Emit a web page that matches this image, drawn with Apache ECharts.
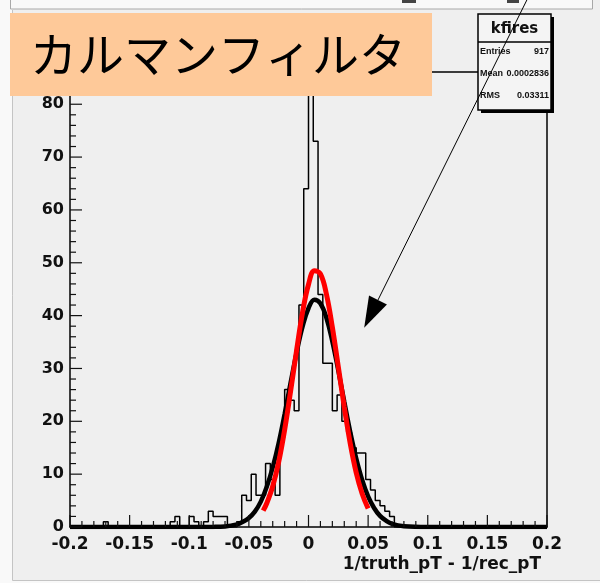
<!DOCTYPE html>
<html>
<head>
<meta charset="utf-8">
<script src="https://cdn.jsdelivr.net/npm/echarts@6/dist/echarts.min.js"></script>
<style>
html, body { margin: 0; padding: 0; background: #f9f9f9; }
#main { width: 600px; height: 583px; }
</style>
</head>
<body>
<div id="main"></div>
<script>
// histogram kfires : 100 bins of 0.004 between -0.2 and 0.2
const binStart = -0.2;
const binWidth = 0.004;
const counts = [
  0, 0, 0, 0, 0, 0, 0, 1, 0, 0,
  0, 0, 0, 0, 0, 0, 0, 0, 0, 0,
  0, 1, 2, 0, 0, 2, 1, 0, 1, 3,
  2, 2, 2, 0, 0, 1, 6, 5, 10, 6,
  6, 12, 9, 6, 17, 26, 24, 22, 42, 64,
  82, 73, 44, 31, 31, 22, 25, 20, 18, 15,
  14, 14, 9, 7, 5, 4, 3, 2, 0, 0,
  0, 0, 0, 0, 0, 0, 0, 0, 0, 0,
  0, 0, 0, 0, 0, 0, 0, 0, 0, 0,
  0, 0, 0, 0, 0, 0, 0, 0, 0, 0
];

// black fit curve
const blackX = [-0.2, -0.1, -0.08, -0.07, -0.06, -0.055, -0.05, -0.045, -0.04, -0.035,
  -0.03, -0.025, -0.02, -0.015, -0.01, -0.005, 0, 0.005, 0.01, 0.015,
  0.02, 0.025, 0.03, 0.035, 0.04, 0.045, 0.05, 0.055, 0.06, 0.065,
  0.07, 0.08, 0.1, 0.2];
const blackY = [0, 0, 0.02, 0.1, 0.5, 1.0, 1.7, 2.9, 4.8, 7.6,
  11.3, 15.9, 21.4, 27.3, 33.0, 37.9, 41.4, 43.0, 42.3, 39.6,
  35.1, 29.6, 23.7, 18.0, 13.0, 8.9, 5.8, 3.6, 2.1, 1.2,
  0.6, 0.15, 0, 0];

// red curve (kalman filter)
const redX = [-0.038, -0.035, -0.03, -0.025, -0.02, -0.015, -0.01, -0.005, 0, 0.005,
  0.01, 0.015, 0.02, 0.025, 0.03, 0.035, 0.04, 0.045, 0.05];
const redY = [3.1, 4.5, 7.7, 12.3, 18.4, 25.7, 33.4, 40.6, 45.9, 48.5,
  47.9, 44.1, 37.8, 30.3, 22.7, 15.8, 10.3, 6.3, 3.5];

// tick positions
const xMajorTicks = [-0.2, -0.15, -0.1, -0.05, 0, 0.05, 0.1, 0.15, 0.2];
const xMinorStep = 0.01;
const yMajorTicks = [0, 10, 20, 30, 40, 50, 60, 70, 80];
const yMinorStep = 2;

const statNames = ['Entries', 'Mean', 'RMS'];
const statValues = ['917', '0.0002836', '0.03311'];

// arrow annotation in data coordinates (tail is above the frame)
const arrowTail = [0.1835, 99.9];
const arrowTip = [0.0467, 37.7];

const histData = counts.map((c, i) => [binStart + i * binWidth, c]);
histData.push([binStart + counts.length * binWidth, counts[counts.length - 1]]);

// tick marks as data: [value, side (0 = bottom, 1 = left), length]
const tickData = [];
for (let i = 0; i <= 40; i++) {
  const v = Math.round((-0.2 + i * xMinorStep) * 1000) / 1000;
  const major = xMajorTicks.some(t => Math.abs(t - v) < 1e-9);
  tickData.push([v, 0, major ? 12 : 6]);
}
for (let v = 0; v <= 86; v += yMinorStep) {
  tickData.push([v, 1, yMajorTicks.indexOf(v) >= 0 ? 12 : 6]);
}

const chart = echarts.init(document.getElementById('main'));

const frameLine = { show: true, onZero: false, lineStyle: { color: '#000', width: 1.5 } };
const labelFont = { fontFamily: 'DejaVu Sans', fontWeight: 'bold', color: '#111' };

const option = {
  backgroundColor: '#efefef',
  animation: false,
  grid: { left: 70, right: 53, top: 72, bottom: 56 },
  xAxis: [
    {
      type: 'value',
      min: -0.2,
      max: 0.2,
      interval: 0.05,
      axisLine: frameLine,
      axisTick: { show: false },
      splitLine: { show: false },
      axisLabel: Object.assign({ fontSize: 17, margin: 9 }, labelFont)
    },
    {
      // top side of the frame
      type: 'value', position: 'top', min: -0.2, max: 0.2,
      axisLine: frameLine, axisTick: { show: false }, axisLabel: { show: false }, splitLine: { show: false }
    }
  ],
  yAxis: [
    {
      type: 'value',
      min: 0,
      max: 86.1,
      interval: 10,
      axisLine: frameLine,
      axisTick: { show: false },
      splitLine: { show: false },
      axisLabel: Object.assign({
        fontSize: 16,
        margin: 6,
        formatter: v => (v % 10 === 0 ? String(v) : '')
      }, labelFont)
    },
    {
      // right side of the frame
      type: 'value', position: 'right', min: 0, max: 86.1,
      axisLine: frameLine, axisTick: { show: false }, axisLabel: { show: false }, splitLine: { show: false }
    }
  ],
  series: [
    {
      name: 'kfires',
      type: 'line',
      step: 'end',
      symbol: 'none',
      data: histData,
      lineStyle: { color: '#000', width: 1.5 },
      z: 2
    },
    {
      name: 'fit',
      type: 'line',
      smooth: 0.4,
      symbol: 'none',
      data: blackX.map((x, i) => [x, blackY[i]]),
      lineStyle: { color: '#000', width: 4.5 },
      z: 3
    },
    {
      name: 'kalman',
      type: 'line',
      smooth: 0.4,
      symbol: 'none',
      data: redX.map((x, i) => [x, redY[i]]),
      lineStyle: { color: '#ff0000', width: 5 },
      z: 4
    },
    {
      // inward ticks, ROOT style
      name: 'ticks',
      type: 'custom',
      silent: true,
      clip: false,
      z: 5,
      encode: { x: 0, y: 1 },
      data: tickData,
      renderItem: function (params, api) {
        const v = api.value(0), side = api.value(1), len = api.value(2);
        if (side === 0) {
          const p = api.coord([v, 0]);
          return { type: 'rect', shape: { x: p[0] - 0.6, y: p[1] - len, width: 1.2, height: len }, style: { fill: '#111' } };
        }
        const p = api.coord([-0.2, v]);
        return { type: 'rect', shape: { x: p[0], y: p[1] - 0.6, width: len, height: 1.2 }, style: { fill: '#111' } };
      }
    }
  ]
};

chart.setOption(option);

// annotations: pads, label box, stats box, arrow
const tail = chart.convertToPixel({ xAxisIndex: 0, yAxisIndex: 0 }, arrowTail);
const tip = chart.convertToPixel({ xAxisIndex: 0, yAxisIndex: 0 }, arrowTip);
const dx = tail[0] - tip[0], dy = tail[1] - tip[1];
const len = Math.sqrt(dx * dx + dy * dy);
const ux = dx / len, uy = dy / len;
const headLen = 31, headHalf = 10;
const bx = tip[0] + ux * headLen, by = tip[1] + uy * headLen;

const statFont = 'bold 9px "Liberation Sans"';
const statRows = [];
statNames.forEach((name, i) => {
  const y = 52 + i * 22;
  statRows.push({
    type: 'text', z: 101,
    style: { x: 480, y: y, text: name, fill: '#111', font: statFont, textVerticalAlign: 'middle' }
  });
  statRows.push({
    type: 'text', z: 101,
    style: { x: 549, y: y, text: statValues[i], fill: '#111', font: statFont, textAlign: 'right', textVerticalAlign: 'middle' }
  });
});

chart.setOption({
  graphic: [
    // outer canvas edges
    { type: 'rect', z: 90, shape: { x: 0, y: 0, width: 12.5, height: 583 }, style: { fill: '#f9f9f9' } },
    { type: 'rect', z: 90, shape: { x: 0, y: 580.5, width: 600, height: 3 }, style: { fill: '#f9f9f9' } },
    { type: 'line', z: 91, shape: { x1: 12.5, y1: 10, x2: 12.5, y2: 580.5 }, style: { stroke: '#c4c4c4', lineWidth: 1 } },
    { type: 'line', z: 91, shape: { x1: 12.5, y1: 580.5, x2: 600, y2: 580.5 }, style: { stroke: '#c4c4c4', lineWidth: 1 } },
    // pad above
    { type: 'rect', z: 92, shape: { x: 10.5, y: -5, width: 582, height: 14 }, style: { fill: '#f8f8f8', stroke: '#a8a8a8', lineWidth: 1 } },
    { type: 'rect', z: 93, shape: { x: 402, y: 0, width: 14, height: 3 }, style: { fill: '#444' } },
    { type: 'rect', z: 93, shape: { x: 507, y: 0, width: 12, height: 3 }, style: { fill: '#444' } },
    // label box
    { type: 'rect', z: 100, shape: { x: 10, y: 13, width: 422, height: 83 }, style: { fill: '#fec999' } },
    {
      type: 'text', z: 101,
      style: {
        x: 30, y: 54, text: 'カルマンフィルタ', fill: '#000',
        font: '47px "Noto Sans CJK JP"', textVerticalAlign: 'middle'
      }
    },
    // stats box
    { type: 'rect', z: 100, shape: { x: 481, y: 17, width: 73, height: 96 }, style: { fill: '#000' } },
    { type: 'rect', z: 100, shape: { x: 478, y: 14, width: 73, height: 96 }, style: { fill: '#f4f4f4', stroke: '#000', lineWidth: 1.5 } },
    { type: 'line', z: 101, shape: { x1: 478, y1: 42, x2: 551, y2: 42 }, style: { stroke: '#000', lineWidth: 1.5 } },
    {
      type: 'text', z: 101,
      style: { x: 514.5, y: 29, text: 'kfires', fill: '#111', font: 'bold 15px "DejaVu Sans"', textAlign: 'center', textVerticalAlign: 'middle' }
    },
    ...statRows,
    // axis title
    {
      type: 'text', z: 101,
      style: { x: 541, y: 565, text: '1/truth_pT - 1/rec_pT', fill: '#111', font: 'bold 17px "DejaVu Sans"', textAlign: 'right', textVerticalAlign: 'middle' }
    },
    // arrow
    { type: 'line', z: 110, shape: { x1: tail[0], y1: tail[1], x2: bx, y2: by }, style: { stroke: '#000', lineWidth: 1 } },
    {
      type: 'polygon', z: 110,
      shape: { points: [[tip[0], tip[1]], [bx + uy * headHalf, by - ux * headHalf], [bx - uy * headHalf, by + ux * headHalf]] },
      style: { fill: '#000' }
    }
  ]
});
</script>
</body>
</html>
